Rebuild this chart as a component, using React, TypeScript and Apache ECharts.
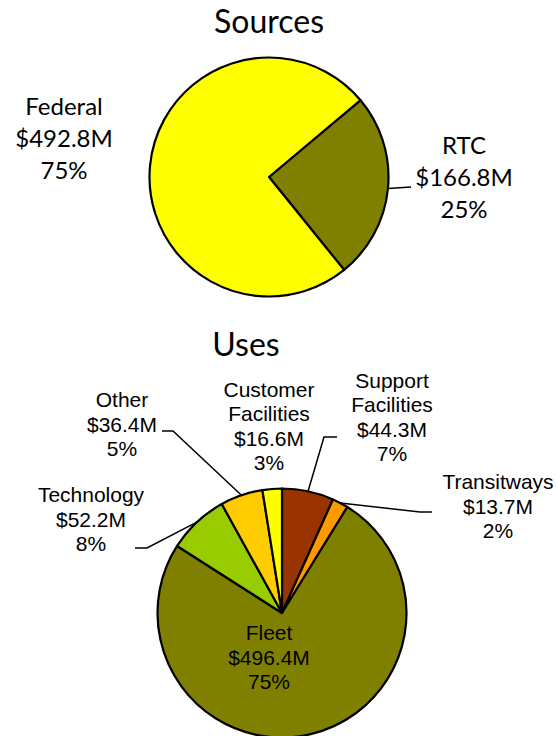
import React, { useEffect, useRef } from "react";
import * as echarts from "echarts";

// ---- data ----
const sourcesNames = ["RTC", "Federal"];
const sourcesValues = [166.8, 492.8];
const sourcesPct = [25, 75];

const usesNames = [
  "Support Facilities",
  "Transitways",
  "Fleet",
  "Technology",
  "Other",
  "Customer Facilities",
];
const usesValues = [44.3, 13.7, 496.4, 52.2, 36.4, 16.6];
const usesPct = [7, 2, 75, 8, 5, 3];

// ---- styles ----
const sourcesColors = ["#808000", "#FFFF00"];
const usesColors = ["#993300", "#FF9900", "#808000", "#99CC00", "#FFCC00", "#FFFF00"];
const sourcesHasLine = [true, false];
const usesHasLine = [true, true, false, true, true, false];

// ---- label placement (label centres and leader-line bends, in px) ----
const sourcesLabelLayout: { x: number; y: number; line: number[][] | null }[] = [
  { x: 464, y: 176, line: [[411, 187]] },
  { x: 64, y: 137, line: null },
];
const usesLabelLayout: { x: number; y: number; line: number[][] | null }[] = [
  { x: 392, y: 417, line: [[324, 437], [337, 437]] },
  { x: 498, y: 506, line: [[420, 512], [432, 512]] },
  { x: 269, y: 657, line: null },
  { x: 91, y: 519, line: [[147, 548], [135, 548]] },
  { x: 122, y: 424, line: [[173, 431], [162, 431]] },
  { x: 269, y: 426, line: null },
];

const makeLayout =
  (layout: { x: number; y: number; line: number[][] | null }[]) => (params: any) => {
    const l = layout[params.dataIndex];
    const res: any = { x: l.x, y: l.y, align: "center", verticalAlign: "middle" };
    if (l.line && params.labelLinePoints && params.labelLinePoints.length) {
      res.labelLinePoints = [params.labelLinePoints[0], ...l.line];
    }
    return res;
  };

const makeFormatter = (pct: number[]) => (p: any) =>
  `${String(p.name).split(" ").join("\n")}\n$${Number(p.value).toFixed(1)}M\n${pct[p.dataIndex]}%`;

export default function App() {
  const ref = useRef<HTMLDivElement>(null);

  useEffect(() => {
    if (!ref.current) return;
    const chart = echarts.init(ref.current, undefined, { renderer: "svg" });

    const option: any = {
      animation: false,
      backgroundColor: "#ffffff",
      graphic: [
        {
          type: "text",
          x: 269,
          y: 20,
          style: {
            text: "Sources",
            fontFamily: "Lato",
            fontSize: 32,
            fill: "#000",
            align: "center",
            verticalAlign: "middle",
          },
        },
        {
          type: "text",
          x: 246,
          y: 343,
          style: {
            text: "Uses",
            fontFamily: "Lato",
            fontSize: 32,
            fill: "#000",
            align: "center",
            verticalAlign: "middle",
          },
        },
      ],
      series: [
        {
          type: "pie",
          center: [269, 177],
          radius: 119.5,
          startAngle: 40,
          clockwise: true,
          avoidLabelOverlap: false,
          silent: true,
          itemStyle: { borderColor: "#000", borderWidth: 2.2 },
          label: {
            show: true,
            position: "outside",
            color: "#000",
            fontFamily: "Lato",
            fontSize: 24,
            lineHeight: 32,
            formatter: makeFormatter(sourcesPct),
          },
          labelLine: { show: true, smooth: false, lineStyle: { color: "#000", width: 1.5 } },
          labelLayout: makeLayout(sourcesLabelLayout),
          emphasis: { disabled: true },
          data: sourcesNames.map((n, i) => ({
            name: n,
            value: sourcesValues[i],
            itemStyle: { color: sourcesColors[i] },
            labelLine: { show: sourcesHasLine[i] },
          })),
        },
        {
          type: "pie",
          center: [282, 613],
          radius: 124.5,
          startAngle: 90,
          clockwise: true,
          avoidLabelOverlap: false,
          silent: true,
          itemStyle: { borderColor: "#000", borderWidth: 2.2 },
          label: {
            show: true,
            position: "outside",
            color: "#000",
            fontFamily: "Liberation Sans",
            fontSize: 21,
            lineHeight: 24.5,
            formatter: makeFormatter(usesPct),
          },
          labelLine: { show: true, smooth: false, lineStyle: { color: "#000", width: 1.5 } },
          labelLayout: makeLayout(usesLabelLayout),
          emphasis: { disabled: true },
          data: usesNames.map((n, i) => ({
            name: n,
            value: usesValues[i],
            itemStyle: { color: usesColors[i] },
            labelLine: { show: usesHasLine[i] },
          })),
        },
      ],
    };

    chart.setOption(option);
    return () => chart.dispose();
  }, []);

  return (
    <div
      ref={ref}
      style={{ position: "absolute", left: 0, top: 0, width: 556, height: 736, background: "#fff" }}
    />
  );
}
